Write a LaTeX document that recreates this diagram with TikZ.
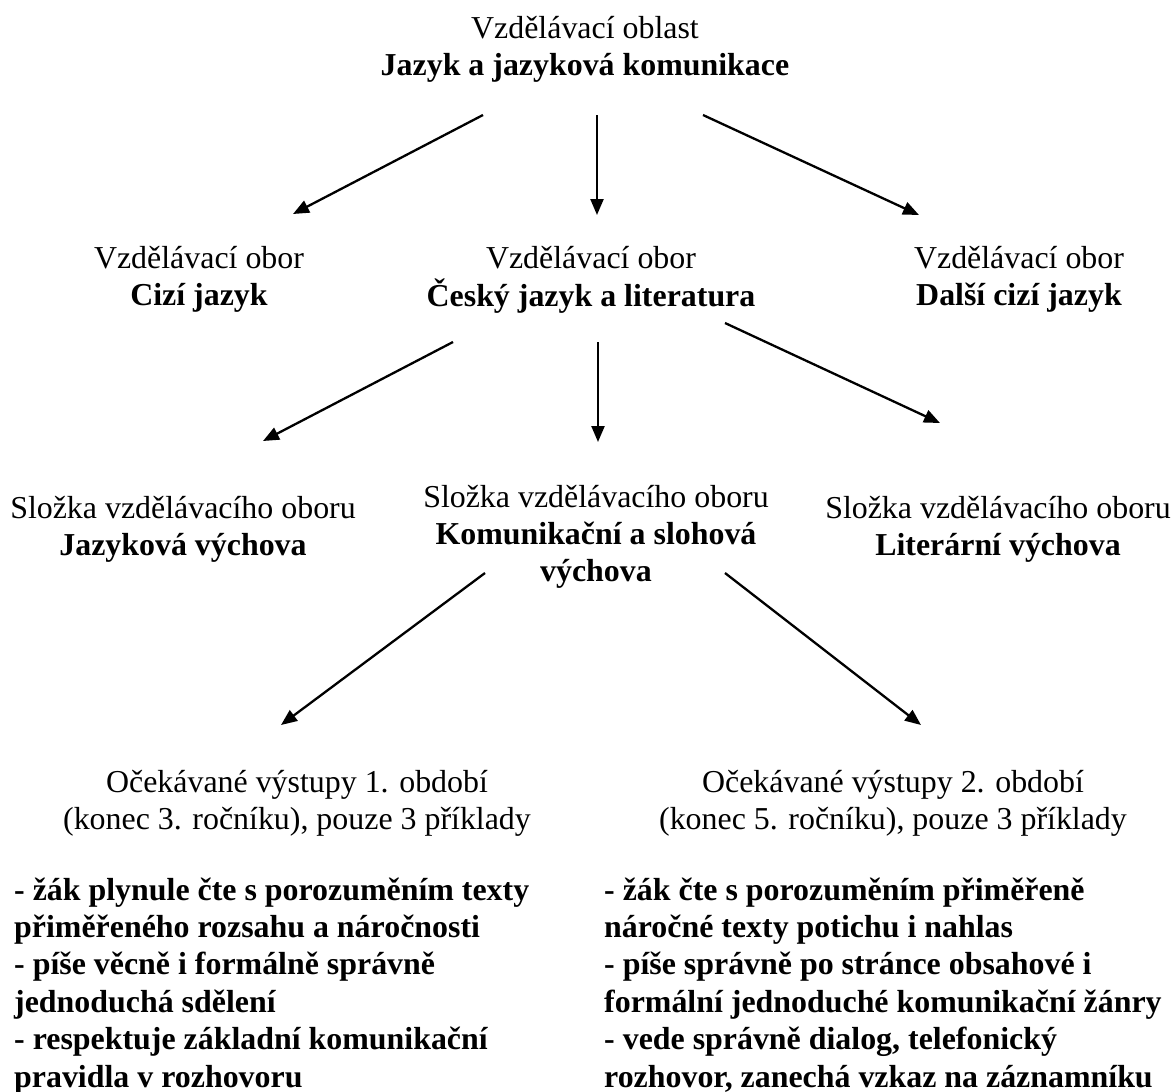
\documentclass[tikz,border=0pt]{standalone}
\usepackage{fontspec}
\setmainfont{Liberation Serif}
\usetikzlibrary{arrows.meta}
\newcommand\mlc[1]{\begin{tabular}[t]{@{}c@{}}#1\end{tabular}}
\newcommand\mll[1]{\begin{tabular}[t]{@{}l@{}}#1\end{tabular}}
\tikzset{
  txt/.style={inner sep=0pt, anchor=base, font=\fontsize{31.9}{37.4}\selectfont},
  ltxt/.style={txt, anchor=base west},
  arr/.style={line width=2.3pt, -{Triangle[length=16pt,width=13pt]}}
}
\begin{document}
\begin{tikzpicture}[x=1pt,y=-1pt]
\useasboundingbox (0,0) rectangle (1171,1092);
\renewcommand\arraystretch{1}
% nodes
\node[txt] (oblast) at (585,38) {\mlc{Vzdělávací oblast\\ \textbf{Jazyk a jazyková komunikace}}};
\node[txt] (obor1) at (199,268) {\mlc{Vzdělávací obor\\ \textbf{Cizí jazyk}}};
\node[txt] (obor2) at (591,268) {\mlc{Vzdělávací obor\\ \textbf{Český jazyk a literatura}}};
\node[txt] (obor3) at (1019,268) {\mlc{Vzdělávací obor\\ \textbf{Další cizí jazyk}}};
\node[txt] (slozka1) at (183,518) {\mlc{Složka vzdělávacího oboru\\ \textbf{Jazyková výchova}}};
\node[txt] (slozka2) at (596,507) {\mlc{Složka vzdělávacího oboru\\ \textbf{Komunikační a slohová}\\ \textbf{výchova}}};
\node[txt] (slozka3) at (998,518) {\mlc{Složka vzdělávacího oboru\\ \textbf{Literární výchova}}};
\node[txt] (vyst1) at (297,792) {\mlc{Očekávané výstupy 1. období\\ (konec 3. ročníku), pouze 3 příklady}};
\node[txt] (vyst2) at (893,792) {\mlc{Očekávané výstupy 2. období\\ (konec 5. ročníku), pouze 3 příklady}};
\node[ltxt] (list1) at (14,900) {\mll{\bfseries - žák plynule čte s porozuměním texty\\ \bfseries přiměřeného rozsahu a náročnosti\\ \bfseries - píše věcně i formálně správně\\ \bfseries jednoduchá sdělení\\ \bfseries - respektuje základní komunikační\\ \bfseries pravidla v rozhovoru}};
\node[ltxt] (list2) at (604,900) {\mll{\bfseries - žák čte s porozuměním přiměřeně\\ \bfseries náročné texty potichu i nahlas\\ \bfseries - píše správně po stránce obsahové i\\ \bfseries formální jednoduché komunikační žánry\\ \bfseries - vede správně dialog, telefonický\\ \bfseries rozhovor, zanechá vzkaz na záznamníku}};
% connector end points
\coordinate (a1s) at (483,115); \coordinate (a1e) at (293,214);
\coordinate (a2s) at (597,115); \coordinate (a2e) at (597,215);
\coordinate (a3s) at (703,115); \coordinate (a3e) at (919,215);
\coordinate (b1s) at (453,342); \coordinate (b1e) at (263,441);
\coordinate (b2s) at (598,342); \coordinate (b2e) at (598,442);
\coordinate (b3s) at (725,323); \coordinate (b3e) at (940,423);
\coordinate (c1s) at (485,573); \coordinate (c1e) at (281,725);
\coordinate (c2s) at (725,573); \coordinate (c2e) at (921,725);
% connectors
\draw[arr] (a1s) -- (a1e);
\draw[arr] (a2s) -- (a2e);
\draw[arr] (a3s) -- (a3e);
\draw[arr] (b1s) -- (b1e);
\draw[arr] (b2s) -- (b2e);
\draw[arr] (b3s) -- (b3e);
\draw[arr] (c1s) -- (c1e);
\draw[arr] (c2s) -- (c2e);
\end{tikzpicture}
\end{document}
